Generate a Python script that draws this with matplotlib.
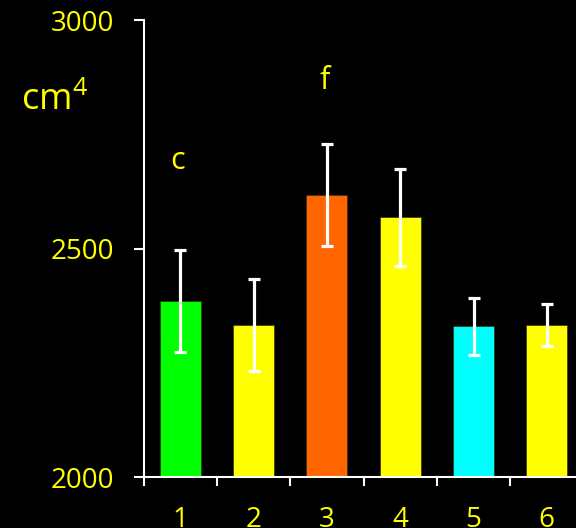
import numpy as np
import matplotlib
matplotlib.use('Agg')
import matplotlib.pyplot as plt
from matplotlib.ticker import FixedLocator

plt.rcParams['font.family'] = ['Open Sans', 'DejaVu Sans']
plt.rcParams['mathtext.fontset'] = 'custom'
plt.rcParams['mathtext.rm'] = 'Open Sans'
plt.rcParams['mathtext.default'] = 'regular'

groups = ['1', '2', '3', '4', '5', '6']
values = [2385, 2333, 2617, 2568, 2330, 2333]
errors = [112, 100, 112, 106, 62, 46]
colors = ['#00ff00', '#ffff00', '#ff6600', '#ffff00', '#00ffff', '#ffff00']
letters = {0: 'c', 2: 'f'}
letter_y = {0: 2691, 2: 2866}

fig = plt.figure(figsize=(5.76, 5.28), dpi=100, facecolor='black')
ax = fig.add_axes([143.5 / 576, 51 / 528, 440 / 576, 457 / 528])
ax.set_facecolor('black')

x = np.arange(1, len(values) + 1)
ax.bar(x, values, width=0.56, color=colors, edgecolor='#333300', linewidth=0.5,
       zorder=2)
ax.errorbar(x, values, yerr=errors, fmt='none', ecolor='white', elinewidth=2.3,
            capsize=4.5, capthick=2.3, zorder=3)

# significance letters above bars
for i, s in letters.items():
    ax.text(x[i] - 0.03, letter_y[i], s, color='yellow', fontsize=22,
            ha='center', va='center')

fig.text(21 / 576, (528 - 110) / 528, 'cm$^{4}$', color='yellow', fontsize=26,
         ha='left', va='baseline')

ax.set_xlim(0.5, 6.5)
ax.set_ylim(2000, 3000)
ax.set_yticks([2000, 2500, 3000])
ax.set_xticks(x)
ax.set_xticklabels(groups)
ax.xaxis.set_minor_locator(FixedLocator(np.arange(0.5, 7, 1)))

ax.tick_params(axis='y', colors='white', labelcolor='yellow', labelsize=20,
               length=7, width=1.5, direction='out', pad=14)
ax.tick_params(axis='x', which='major', length=0, labelcolor='yellow',
               labelsize=20, pad=21)
ax.tick_params(axis='x', which='minor', colors='white', length=6.5, width=1.5,
               direction='out')

for side in ['top', 'right']:
    ax.spines[side].set_visible(False)
for side in ['left', 'bottom']:
    ax.spines[side].set_color('white')
    ax.spines[side].set_linewidth(1.5)

fig.savefig('out.png', dpi=100, facecolor='black')
